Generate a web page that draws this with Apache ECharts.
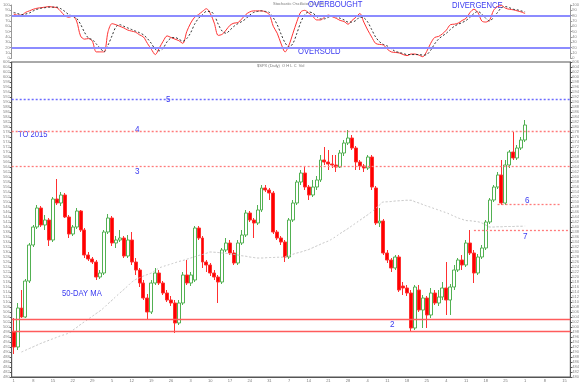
<!DOCTYPE html>
<html><head><meta charset="utf-8">
<script src="https://cdn.jsdelivr.net/npm/echarts@6/dist/echarts.min.js"></script>
<style>html,body{margin:0;padding:0;background:#fff}#c{width:582px;height:385px}</style>
</head><body><div id="c"></div>
<script>
// ---- data ----
const SLOTS = 142;
// candles: [open, close, low, high]
const candles = [
[498.0,492.0,489.2,503.6],[492.0,507.6,490.8,509.6],[507.6,504.0,503.6,514.8],[504.0,518.4,503.6,519.2],
[518.4,532.8,517.6,533.6],[532.8,540.0,532.0,540.8],[540.0,547.6,539.2,548.8],[547.6,540.8,540.0,548.4],
[540.8,542.8,538.8,544.8],[542.8,534.8,532.4,543.6],[534.8,551.2,534.0,552.0],[551.2,549.6,548.8,559.2],
[549.6,552.8,548.4,554.0],[552.8,544.0,543.6,553.6],[544.0,537.2,535.6,544.8],[537.2,540.0,536.4,540.8],
[540.0,546.4,539.2,547.6],[546.4,538.8,538.0,546.8],[538.8,528.8,527.6,539.6],[528.8,527.2,526.4,530.0],
[527.2,526.0,525.2,528.0],[526.0,520.0,518.8,526.8],[520.0,521.6,519.2,522.8],[521.6,538.0,520.8,538.8],
[538.0,543.6,537.2,545.2],[543.6,533.6,532.4,544.4],[533.6,534.8,531.6,536.4],[534.8,535.6,534.0,538.8],
[535.6,528.4,527.6,536.4],[528.4,534.8,527.6,536.8],[534.8,526.0,524.8,538.0],[526.0,522.8,520.8,527.6],
[522.8,517.6,516.0,523.6],[517.6,511.6,510.8,518.8],[511.6,506.0,502.8,513.2],[506.0,517.6,505.2,518.8],
[517.6,521.6,516.8,523.6],[521.6,517.6,516.8,522.8],[517.6,513.6,512.8,518.4],[513.6,510.8,510.0,514.8],
[510.8,509.6,508.4,512.4],[509.6,501.6,497.6,510.8],[501.6,509.6,500.8,510.8],[509.6,520.8,508.8,522.0],
[520.8,517.6,516.8,526.8],[517.6,520.8,516.4,522.0],[518.8,539.6,518.0,540.4],[539.6,535.6,534.8,540.4],
[535.6,526.0,523.6,536.4],[526.0,524.8,522.0,526.8],[524.8,521.6,520.4,525.6],[521.6,520.0,518.8,522.8],
[520.0,518.0,509.6,520.8],[518.0,530.8,517.2,531.6],[530.8,533.6,530.0,535.6],[533.6,529.6,528.8,534.8],
[529.6,525.6,524.8,530.8],[525.6,533.6,524.8,534.8],[533.6,536.8,532.8,538.8],[536.8,545.6,536.0,546.8],
[545.6,542.8,542.0,546.4],[542.8,541.6,535.6,543.6],[541.6,546.8,540.8,548.8],[546.8,555.6,546.0,556.8],
[555.6,554.8,554.0,556.8],[554.8,553.6,550.8,555.6],[553.6,538.0,537.2,554.4],[538.0,535.6,534.8,538.8],
[535.6,534.0,532.8,536.4],[534.0,528.0,526.0,534.8],[528.0,542.8,527.2,543.6],[542.8,549.6,542.0,550.8],
[549.6,558.0,548.8,558.8],[558.0,561.6,556.8,562.8],[561.6,556.0,554.8,564.4],[556.0,552.8,550.8,556.8],
[552.8,556.0,552.0,558.8],[556.0,558.8,554.8,560.4],[558.8,566.8,558.0,568.8],[566.8,566.0,564.8,572.0],
[566.0,565.2,562.8,570.8],[565.2,564.8,563.6,568.8],[564.8,564.0,562.0,568.8],[564.0,569.6,563.6,570.8],
[569.6,573.6,568.4,574.8],[573.6,575.6,572.8,578.8],[575.6,571.6,570.8,576.8],[571.6,566.0,562.8,572.4],
[566.0,564.4,562.8,566.8],[564.4,563.6,562.0,565.2],[563.6,568.0,562.8,568.8],[568.0,556.0,554.8,568.8],
[555.6,541.6,540.8,556.4],[541.6,542.4,540.0,547.6],[542.4,529.6,528.8,543.2],[529.6,526.8,525.6,530.8],
[526.8,523.6,522.0,527.6],[523.6,528.0,522.8,528.8],[528.0,514.8,514.0,528.8],[516.4,515.6,512.8,518.0],
[515.6,513.6,512.4,516.8],[513.6,499.6,498.0,514.8],[499.6,516.0,498.8,516.8],[514.8,506.8,506.0,516.8],
[506.8,511.6,499.6,512.8],[511.6,504.8,499.6,512.4],[504.8,513.6,503.6,515.6],[513.6,509.6,508.8,514.8],
[509.6,512.0,508.4,514.8],[512.0,515.6,510.8,518.0],[515.6,510.8,504.8,526.0],[510.8,516.0,504.8,517.2],
[516.0,522.8,514.8,524.8],[522.8,526.8,522.0,527.6],[526.8,524.8,522.8,528.8],[524.8,533.6,524.0,534.8],
[533.6,529.6,528.8,538.8],[529.6,521.6,517.6,530.8],[521.6,528.0,520.8,529.2],[528.0,531.6,527.2,532.8],
[531.6,542.0,530.8,542.8],[542.0,550.8,541.2,551.6],[550.8,556.0,550.0,556.8],[556.0,560.8,555.2,562.0],
[560.8,549.6,548.8,566.8],[549.6,564.8,548.8,566.8],[564.8,570.0,563.6,570.8],[570.0,567.6,566.8,578.0],
[567.6,571.6,566.8,572.8],[571.6,574.8,570.8,576.0],[574.8,580.8,574.0,582.8]
];
const ma50 = [null,null,490.0,490.7,491.4,492.1,492.8,493.5,494.1,494.7,495.3,495.9,496.5,497.0,497.6,498.7,499.8,501.0,502.1,503.2,
504.3,505.4,506.5,507.8,509.3,510.7,512.2,513.6,515.0,516.4,517.9,519.0,519.7,520.4,521.0,521.6,522.6,523.6,524.2,524.7,
525.2,525.7,526.2,526.6,527.1,527.6,528.1,528.6,529.0,529.5,530.0,529.9,529.8,529.6,529.5,529.2,529.0,528.8,528.5,528.3,
528.0,527.8,527.6,527.6,527.7,527.8,527.8,527.9,527.9,528.2,528.6,529.1,529.6,530.0,530.5,531.0,531.7,532.4,533.1,533.8,
534.4,535.3,536.3,537.4,538.4,539.4,540.5,541.6,542.7,543.8,544.9,546.1,547.4,548.8,550.0,550.1,550.2,550.4,550.5,550.6,
550.7,550.7,550.1,549.6,549.0,548.4,547.9,547.3,546.8,546.2,545.7,545.0,544.3,543.6,543.1,542.6,542.5,542.3,542.1,541.6,
540.8,540.0,540.0,540.1,540.1,540.2,540.2,540.2,540.3,540.3,540.4];
const stochK = [83,81,81,86,89,92,94,95,96,97,96,95,88,80,77,79,70,42,36,37,
32,12,12,12,50,65,63,60,57,53,51,49,44,40,28,17,7,19,32,42,
39,36,33,28,50,66,77,82,88,93,84,66,43,45,53,62,66,67,74,82,
87,89,89,89,87,82,60,47,27,12,25,47,69,87,90,85,79,72,72,77,
81,78,75,71,69,64,71,77,84,68,53,40,28,26,25,17,12,11,10,7,
5,8,8,6,3,13,28,39,41,46,53,63,64,66,71,75,86,92,86,70,
68,72,90,97,99,94,92,91,89,87,84];
const stochD = [86,84,82,83,85,89,92,94,95,96,96,96,93,88,82,79,75,64,49,38,
35,27,19,12,25,42,59,63,60,57,54,51,48,44,37,28,17,14,19,31,
38,39,36,32,37,48,64,75,82,88,88,81,64,51,47,53,60,65,69,74,
81,86,88,89,88,86,76,63,45,29,21,28,47,68,82,87,85,79,74,74,
77,79,78,75,72,68,68,71,77,76,68,54,40,31,26,23,18,13,11,9,
7,7,7,7,6,7,15,27,36,42,47,54,60,64,67,71,77,84,88,83,
75,70,77,86,95,97,95,92,91,89,87];
const stochLevels = [80, 20];
const blueLevels = [591.3];          // "5"
const redDottedLevels = [578.3, 564.1]; // "4", "3"
const solidLevels = [503.1, 498.3];  // "2"
const level6 = {value:549.2, from:123, to:139};
const level7 = {value:538.9, from:117, to:141};
const divergence = [{i:124, v:104}, {i:130, v:96}];

// categories (trading days)
const categories = [];
(function(){ let d = new Date(Date.UTC(2014,9,1));
  while (categories.length < SLOTS) { const w = d.getUTCDay();
    if (w !== 0 && w !== 6) categories.push(d.toISOString().slice(0,10));
    d.setUTCDate(d.getUTCDate()+1); } })();

const chart = echarts.init(document.getElementById('c'), null, {renderer:'canvas'});
const tiny = {fontSize:4, color:'#888', fontFamily:'Liberation Sans'};
const blueTxt = (t, x, y, sx, fs) => ({type:'text', x, y, scaleX: sx || 0.85, style:{text:t, fill:'#3a3af0', font:`${fs||9}px "Liberation Sans"`}});
const levelSeries = (lines, color, type, width) => ({
  type:'line', xAxisIndex:1, yAxisIndex:2, data:[], silent:true,
  markLine:{silent:true, symbol:'none', label:{show:false}, animation:false,
    lineStyle:{color, type, width}, data:lines}
});

chart.setOption({
  animation:false,
  backgroundColor:'#fff',
  grid:[
    {left:10, right:11, top:5, height:53.3},
    {left:10, right:11, top:62, height:315, show:true, borderColor:'#555', borderWidth:1}
  ],
  xAxis:[
    {type:'category', gridIndex:0, data:categories, boundaryGap:true, axisLine:{show:false}, axisTick:{show:false}, axisLabel:{show:false}},
    {type:'category', gridIndex:1, data:categories, boundaryGap:true,
     axisLine:{lineStyle:{color:'#555'}}, axisTick:{interval:4, length:4, lineStyle:{color:'#777'}},
     axisLabel:{interval:4, margin:2, fontSize:4, color:'#777', formatter:v=>String(+v.slice(8))}}
  ],
  yAxis:[
    {type:'value', gridIndex:0, min:0, max:100, interval:10, position:'left', splitLine:{show:false},
     axisLine:{show:true, lineStyle:{color:'#999'}}, axisTick:{show:true, length:2}, axisLabel:Object.assign({margin:2}, tiny)},
    {type:'value', gridIndex:0, min:0, max:100, interval:10, position:'right', splitLine:{show:false},
     axisLine:{show:true, lineStyle:{color:'#999'}}, axisTick:{show:true, length:2}, axisLabel:Object.assign({margin:2}, tiny)},
    {type:'value', gridIndex:1, min:480, max:606, interval:2, position:'left', splitLine:{show:false},
     axisLine:{show:true, lineStyle:{color:'#555'}}, axisTick:{show:true, length:2}, axisLabel:Object.assign({margin:2}, tiny)},
    {type:'value', gridIndex:1, min:480, max:606, interval:2, position:'right', splitLine:{show:false},
     axisLine:{show:true, lineStyle:{color:'#555'}}, axisTick:{show:true, length:2}, axisLabel:Object.assign({margin:2}, tiny)}
  ],
  series:[
    {type:'line', xAxisIndex:0, yAxisIndex:0, data:[], silent:true,
     markLine:{silent:true, symbol:'none', label:{show:false},
       lineStyle:{color:'#8c8cff', width:2, type:'solid'}, data:stochLevels.map(v=>({yAxis:v}))}},
    {type:'line', xAxisIndex:0, yAxisIndex:0, data:[], silent:true,
     markLine:{silent:true, symbol:'none', label:{show:false},
       lineStyle:{color:'#5a5aff', width:1, type:'solid'},
       data:[[{coord:[divergence[0].i, divergence[0].v]}, {coord:[divergence[1].i, divergence[1].v]}]]}},
    {type:'line', xAxisIndex:0, yAxisIndex:0, data:stochK, symbol:'none', smooth:0.3,
     lineStyle:{color:'#ff3333', width:1}},
    {type:'line', xAxisIndex:0, yAxisIndex:0, data:stochD, symbol:'none', smooth:0.3,
     lineStyle:{color:'#333', width:1, type:[2,2]}},
    levelSeries(blueLevels.map(v=>({yAxis:v})), '#6b6bff', [2,2], 1.3),
    levelSeries(redDottedLevels.map(v=>({yAxis:v})), '#ff7b7b', [2,2], 1.3),
    levelSeries(solidLevels.map(v=>({yAxis:v})), '#ff5c5c', 'solid', 1.4),
    levelSeries([
      [{coord:[level6.from, level6.value]}, {coord:[level6.to, level6.value]}],
      [{coord:[level7.from, level7.value]}, {coord:[level7.to, level7.value]}]
    ], '#ff7b7b', [2,2], 1.3),
    {type:'line', xAxisIndex:1, yAxisIndex:2, data:ma50, symbol:'none', smooth:true,
     lineStyle:{color:'#c4c4c4', width:1, type:[2,2]}},
    {type:'candlestick', xAxisIndex:1, yAxisIndex:2, data:candles, barWidth:'88%',
     itemStyle:{color:'rgba(255,255,255,0)', color0:'#ff0000', borderColor:'#52b152', borderColor0:'#ff3030', borderWidth:1}}
  ],
  graphic:[
    {type:'text', x:273, y:2, style:{text:'Stochastic Oscillator (14,3,3)', fill:'#777', font:'4px "Liberation Sans"'}},
    {type:'text', x:257, y:64, style:{text:'$SPX (Daily)  O H L C  Vol', fill:'#777', font:'4px "Liberation Sans"'}},
    blueTxt('OVERBOUGHT', 308, 0),
    blueTxt('OVERSOLD', 298, 47),
    blueTxt('DIVERGENCE', 452, 1),
    blueTxt('TO 2015', 18, 130),
    blueTxt('50-DAY MA', 62, 289),
    blueTxt('5', 166, 95, 0.9),
    blueTxt('4', 135, 125, 0.9),
    blueTxt('3', 135, 167, 0.9),
    blueTxt('6', 525, 196, 0.9),
    blueTxt('7', 523, 232, 0.9),
    blueTxt('2', 390, 320, 0.9)
  ]
});
</script></body></html>
